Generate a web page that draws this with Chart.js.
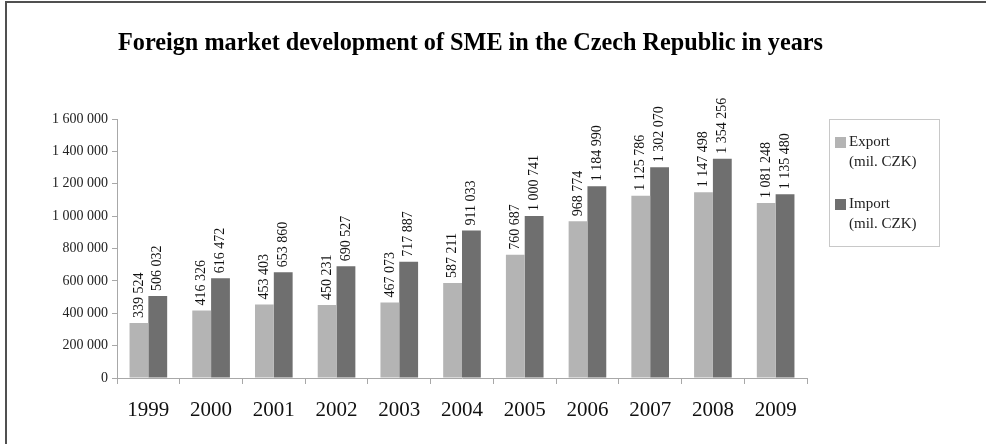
<!DOCTYPE html>
<html>
<head>
<meta charset="utf-8">
<script src="https://cdn.jsdelivr.net/npm/chart.js@4.4.0/dist/chart.umd.min.js"></script>
<style>
  html, body { margin: 0; padding: 0; background: #fff; }
  #wrap { position: relative; width: 986px; height: 444px; overflow: hidden; }
  #frame { position: absolute; left: 5px; top: 1px; width: 1000px; height: 500px;
           border-left: 2px solid #505050; border-top: 2px solid #505050; }
  canvas { position: absolute; left: 0; top: 0; }
</style>
</head>
<body>
<div id="wrap">
  <div id="frame"></div>
  <canvas id="chart" width="986" height="444"></canvas>
</div>
<script>
const years = ["1999", "2000", "2001", "2002", "2003", "2004", "2005", "2006", "2007", "2008", "2009"];
const exportValues = [339524, 416326, 453403, 450231, 467073, 587211, 760687, 968774, 1125786, 1147498, 1081248];
const importValues = [506032, 616472, 653860, 690527, 717887, 911033, 1000741, 1184990, 1302070, 1354256, 1135480];
const seriesNames = [["Export", "(mil. CZK)"], ["Import", "(mil. CZK)"]];
const titleText = "Foreign market development of SME in the Czech Republic in years";

const SERIF = "'Liberation Serif', 'Times New Roman', serif";

function spaced(v) {
    return String(v).replace(/\B(?=(\d{3})+(?!\d))/g, " ");
}

// rotated value labels above the bars
const barLabels = {
    id: "barLabels",
    afterDatasetsDraw(chart) {
        const c = chart.ctx;
        c.save();
        c.font = "14px " + SERIF;
        c.fillStyle = "#111";
        c.textAlign = "left";
        c.textBaseline = "middle";
        chart.data.datasets.forEach((ds, i) => {
            chart.getDatasetMeta(i).data.forEach((bar, j) => {
                c.save();
                c.translate(bar.x, bar.y - 5);
                c.rotate(-Math.PI / 2);
                c.fillText(spaced(ds.data[j]), 0, 0);
                c.restore();
            });
        });
        c.restore();
    }
};

// title and boxed legend on the right
const extras = {
    id: "extras",
    afterDraw(chart) {
        const c = chart.ctx;
        c.save();
        c.fillStyle = "#000";
        c.textBaseline = "middle";
        c.textAlign = "left";
        let size = 22;
        c.font = "bold " + size + "px " + SERIF;
        const w = c.measureText(titleText).width;
        size = size * 705 / w;
        c.font = "bold " + size.toFixed(2) + "px " + SERIF;
        c.fillText(titleText, 118, 44);

        // legend box
        c.strokeStyle = "#c8c8c8";
        c.lineWidth = 1;
        c.strokeRect(829.5, 119.5, 110, 127);
        c.font = "15px " + SERIF;
        const rows = [137, 199];
        chart.data.datasets.forEach((ds, i) => {
            const y = rows[i];
            c.fillStyle = ds.backgroundColor;
            c.fillRect(835, y, 11, 11);
            c.fillStyle = "#222";
            c.fillText(seriesNames[i][0], 849, y + 5);
            c.fillText(seriesNames[i][1], 849, y + 25);
        });
        c.restore();
    }
};

new Chart(document.getElementById("chart"), {
    type: "bar",
    data: {
        labels: years,
        datasets: [
            { label: "Export (mil. CZK)", data: exportValues, backgroundColor: "#b4b4b4" },
            { label: "Import (mil. CZK)", data: importValues, backgroundColor: "#6f6f6f" }
        ]
    },
    options: {
        responsive: false,
        animation: false,
        events: [],
        categoryPercentage: 0.6,
        barPercentage: 1.0,
        layout: { padding: { left: 10, right: 179, top: 119, bottom: 0 } },
        plugins: {
            legend: { display: false },
            title: { display: false },
            tooltip: { enabled: false }
        },
        scales: {
            x: {
                grid: { offset: true, drawOnChartArea: false, drawTicks: true, tickLength: 6, color: "#a8a8a8" },
                border: { color: "#a8a8a8" },
                ticks: { color: "#111", font: { family: SERIF, size: 21 }, padding: 14, maxRotation: 0 },
                afterFit(scale) { scale.height = 66; }
            },
            y: {
                min: 0,
                max: 1600000,
                ticks: {
                    stepSize: 200000,
                    color: "#222",
                    font: { family: SERIF, size: 14 },
                    padding: 4,
                    callback: v => spaced(v)
                },
                grid: { drawOnChartArea: false, drawTicks: true, tickLength: 5, color: "#a8a8a8" },
                border: { color: "#a8a8a8" },
                afterFit(scale) { scale.width = 107; }
            }
        }
    },
    plugins: [barLabels, extras]
});
</script>
</body>
</html>
